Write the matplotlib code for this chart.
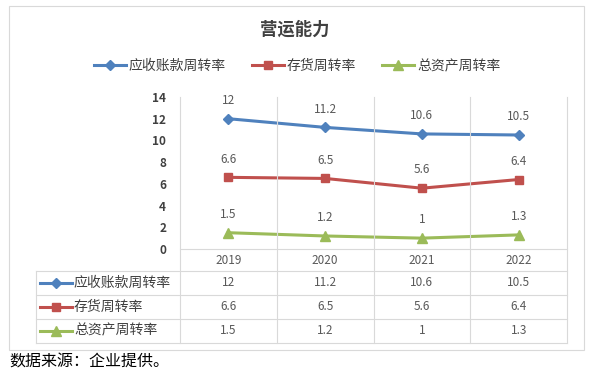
import matplotlib
matplotlib.use("Agg")
import matplotlib.pyplot as plt
from matplotlib.lines import Line2D
from matplotlib.patches import Rectangle

plt.rcParams['font.family'] = ['Noto Sans CJK SC', 'DejaVu Sans']

years = ["2019", "2020", "2021", "2022"]
series_names = ["应收账款周转率", "存货周转率", "总资产周转率"]
receivable_turnover = [12, 11.2, 10.6, 10.5]
inventory_turnover = [6.6, 6.5, 5.6, 6.4]
asset_turnover = [1.5, 1.2, 1, 1.3]
series_values = [receivable_turnover, inventory_turnover, asset_turnover]
y_ticks = [0, 2, 4, 6, 8, 10, 12, 14]

colors = ["#4F81BD", "#C0504D", "#9BBB59"]
markers = ["D", "s", "^"]
msizes = [5, 6, 7]
grid_c = "#D9D9D9"
text_c = "#595959"

W, H = 589, 375
fig = plt.figure(figsize=(W / 100, H / 100), dpi=100)


def px(x, y):
    return x / W, 1 - y / H


def hline(y, x0, x1, c=grid_c, lw=0.8):
    fig.add_artist(Line2D([x0 / W, x1 / W], [1 - y / H, 1 - y / H],
                          transform=fig.transFigure, color=c, lw=lw))


def vline(x, y0, y1, c=grid_c, lw=0.8):
    fig.add_artist(Line2D([x / W, x / W], [1 - y0 / H, 1 - y1 / H],
                          transform=fig.transFigure, color=c, lw=lw))


# outer frame
fig.add_artist(Rectangle(px(9, 350), 575 / W, 344 / H, transform=fig.transFigure,
                         fill=False, ec=grid_c, lw=0.8))

# plot area
left, right, top, bottom = 180, 567, 97, 249
ax = fig.add_axes([left / W, 1 - bottom / H, (right - left) / W, (bottom - top) / H])
ax.set_xlim(0, len(years))
ax.set_ylim(0, 14)
for s in ax.spines.values():
    s.set_visible(False)
ax.set_xticks([])
ax.set_yticks(y_ticks)
ax.tick_params(axis='y', length=0, pad=10, labelsize=8.5, labelcolor="#404040")
for lab in ax.get_yticklabels():
    lab.set_fontweight("bold")

xs = [i + 0.5 for i in range(len(years))]
handles = []
for vals, c, m, ms in zip(series_values, colors, markers, msizes):
    h, = ax.plot(xs, vals, color=c, lw=2.2, marker=m, ms=ms, mec=c, mfc=c, clip_on=False)
    handles.append(h)
    for x, v in zip(xs, vals):
        ax.annotate(f"{v:g}", (x, v), xytext=(0, 8.5), textcoords="offset points",
                    ha="center", va="bottom", fontsize=8.5, color=text_c)

# title and legend
fig.text(*px(295, 30), "营运能力", ha="center", va="center", fontsize=12.5,
         fontweight="bold", color="#404040")
fig.legend(handles, series_names, loc="center", bbox_to_anchor=px(297, 66), ncol=3,
           frameon=False, fontsize=10, handlelength=2.3, columnspacing=1.9,
           handletextpad=0.2, labelcolor="#404040")

# data table grid
col_edges = [left + i * (right - left) / len(years) for i in range(len(years) + 1)]
row_edges = [270.5, 294.5, 318.5, 343]
hline(bottom, left, right)
for y in row_edges:
    hline(y, 36, right)
vline(36, row_edges[0], row_edges[-1])
for x in col_edges:
    vline(x, top, row_edges[-1])

for i, yr in enumerate(years):
    cx = (col_edges[i] + col_edges[i + 1]) / 2
    fig.text(*px(cx, 260), yr, ha="center", va="center", fontsize=8.5, color=text_c)

for r, (name, vals, c, m, ms) in enumerate(zip(series_names, series_values, colors, markers, msizes)):
    cy = (row_edges[r] + row_edges[r + 1]) / 2
    fig.add_artist(Line2D([40 / W, 72 / W], [1 - cy / H] * 2, transform=fig.transFigure,
                          color=c, lw=2.2))
    fig.add_artist(Line2D([56 / W], [1 - cy / H], transform=fig.transFigure,
                          color=c, marker=m, ms=ms, mec=c, mfc=c))
    fig.text(*px(74, cy), name, ha="left", va="center", fontsize=10, color="#404040")
    for i, v in enumerate(vals):
        cx = (col_edges[i] + col_edges[i + 1]) / 2
        fig.text(*px(cx, cy), f"{v:g}", ha="center", va="center", fontsize=8.5, color=text_c)

fig.text(*px(9, 362), "数据来源：企业提供。", ha="left", va="center", fontsize=11.5, color="black")

fig.savefig("out.png", dpi=100)
